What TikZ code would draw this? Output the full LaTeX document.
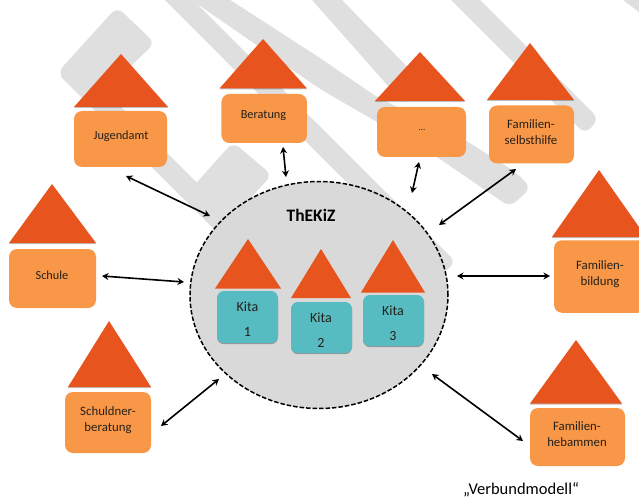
\documentclass[tikz,border=0pt]{standalone}
\usepackage{fontspec}
\setmainfont{Carlito}
\usetikzlibrary{arrows.meta,shadows,shapes.geometric}
\definecolor{stripe}{HTML}{DFDFDF}
\definecolor{ellfill}{HTML}{D9D9D9}
\definecolor{roof}{HTML}{E8541E}
\definecolor{wall}{HTML}{F99748}
\definecolor{kitac}{HTML}{56BCC2}
\definecolor{inkc}{HTML}{262019}
\tikzset{
  stripeshape/.style={fill=stripe,rounded corners=8pt},
  roofshape/.style={fill=roof,drop shadow={shadow xshift=0pt,shadow yshift=-1pt,fill=black,opacity=0.25}},
  kitaroof/.style={fill=roof},
  wallbox/.style={fill=wall,draw=none,rounded corners=8pt,inner sep=0pt},
  kitabox/.style={fill=kitac,draw=none,rounded corners=7pt,inner sep=0pt,
    drop shadow={shadow xshift=0pt,shadow yshift=-1.2pt,fill=black,opacity=0.3}},
  lab/.style={text=inkc,font=\fontsize{12.3}{12.3}\selectfont,align=center,inner sep=0pt},
  twolab/.style={text=inkc,font=\fontsize{12.8}{16.5}\selectfont,align=center,inner sep=0pt},
  kitalab/.style={text=inkc,font=\fontsize{14}{25}\selectfont,align=center,inner sep=0pt},
  link/.style={draw=black,line width=1.6pt,{Stealth[length=6.5pt,width=7pt]}-{Stealth[length=6.5pt,width=7pt]}},
}
\begin{document}
\begin{tikzpicture}[x=1pt,y=-1pt]
\useasboundingbox (0,0) rectangle (639,497);
\clip (0,0) rectangle (639,497);
% grey background strokes
\fill[stripeshape] (117,7) -- (155,43) -- (95,100) -- (57,73) -- cycle;
\fill[stripeshape] (85,71) -- (240,226) -- (225,240) -- (57,73) -- cycle;
\fill[stripeshape] (233,142) -- (272,175) -- (225,225) -- (190,190) -- cycle;
\fill[stripeshape] (180,-13) -- (456,262) -- (440,276) -- (150,-15) -- cycle;
\fill[stripeshape] (210,-13) -- (320,58) -- (377,97) -- (465,140) -- (517,173) -- (531,188) -- (510,207) -- (437,157) -- (377,122) -- (320,89) -- (180,-8) -- cycle;
\fill[stripeshape] (342,0) -- (425,85) -- (405,105) -- (312,0) -- (300,-15) -- (330,-15) -- cycle;
\fill[stripeshape] (465,-15) -- (599,119) -- (585,134) -- (436,-15) -- cycle;
\fill[stripe] (623,0) -- (639,12) -- (639,0) -- cycle;
% Jugendamt
\fill[roofshape] (121,54) -- (168,107) -- (74,107) -- cycle;
\node[wallbox,minimum width=93pt,minimum height=56pt] (jug) at (120.5,139) {};
\node[lab] (jugt) at (121,136) {Jugendamt};
% Beratung
\fill[roofshape] (263,39) -- (307,88.5) -- (219.5,88.5) -- cycle;
\node[wallbox,minimum width=85.5pt,minimum height=49pt] (ber) at (264.2,118.5) {};
\node[lab] (bert) at (263.5,116) {Beratung};
% dots
\fill[roofshape] (420,52) -- (465,101) -- (375,101) -- cycle;
\node[wallbox,minimum width=89pt,minimum height=50pt] (dots) at (421.5,132) {};
\node[lab,font=\fontsize{9}{9}\selectfont] (dotst) at (422,130.5) {...};
% Selbsthilfe
\fill[roofshape] (530,43) -- (574,100) -- (487,100) -- cycle;
\node[wallbox,minimum width=85pt,minimum height=58pt] (sel) at (531.5,134.5) {};
\node[twolab] (selt) at (531,132) {Familien-\\selbsthilfe};
% Bildung
\fill[roofshape] (599,170) -- (646,237) -- (552,237) -- cycle;
\node[wallbox,minimum width=92pt,minimum height=72.5pt] (bil) at (600,276.5) {};
\node[twolab] (bilt) at (600,274) {Familien-\\bildung};
% Schule
\fill[roofshape] (52,184) -- (96,243) -- (9,243) -- cycle;
\node[wallbox,minimum width=87pt,minimum height=59pt] (sch) at (52.5,278.5) {};
\node[lab] (scht) at (52,275) {Schule};
% Schuldnerberatung
\fill[roofshape] (109,321) -- (151,387) -- (68,387) -- cycle;
\node[wallbox,minimum width=86pt,minimum height=61pt] (shu) at (108,422.5) {};
\node[twolab] (shut) at (108,420) {Schuldner-\\beratung};
% Hebammen
\fill[roofshape] (576,340) -- (622,403.5) -- (530,403.5) -- cycle;
\node[wallbox,minimum width=95pt,minimum height=58pt] (heb) at (577.5,437) {};
\node[twolab] (hebt) at (577,434) {Familien-\\hebammen};
% Central ellipse
\node[fill=ellfill,draw=black,line width=1.5pt,dash pattern=on 4.5pt off 2pt,ellipse,minimum width=258pt,minimum height=227pt,inner sep=0pt] (thekiz) at (319,295) {};
\node[text=black,font=\fontsize{17.5}{17.5}\selectfont\bfseries,inner sep=0pt] (titel) at (311,215) {ThEKiZ};
% Kita 1
\fill[kitaroof] (248,239) -- (281,288.5) -- (215,288.5) -- cycle;
\node[kitabox,minimum width=61pt,minimum height=52pt] (k1) at (247.5,317) {};
\node[kitalab] (k1t) at (247.5,319.5) {Kita\\1};
% Kita 2
\fill[kitaroof] (321,249) -- (351,298) -- (291,298) -- cycle;
\node[kitabox,minimum width=61pt,minimum height=51pt] (k2) at (321.5,327.5) {};
\node[kitalab] (k2t) at (321,330) {Kita\\2};
% Kita 3
\fill[kitaroof] (393,240) -- (425,292.5) -- (361,292.5) -- cycle;
\node[kitabox,minimum width=61pt,minimum height=51pt] (k3) at (393.5,320.5) {};
\node[kitalab] (k3t) at (393,323) {Kita\\3};
% connector ends
\coordinate (a1) at (126,176); \coordinate (a2) at (210,216);
\coordinate (b1) at (283,147); \coordinate (b2) at (286,177);
\coordinate (c1) at (419,162); \coordinate (c2) at (412,193);
\coordinate (d1) at (516,169); \coordinate (d2) at (439,225);
\coordinate (e1) at (550,276); \coordinate (e2) at (457,276);
\coordinate (f1) at (523,441); \coordinate (f2) at (432,374);
\coordinate (g1) at (161,426); \coordinate (g2) at (219,379);
\coordinate (h1) at (102,276); \coordinate (h2) at (184,282);
\draw[link] (a1) -- (a2);
\draw[link] (b1) -- (b2);
\draw[link] (c1) -- (c2);
\draw[link] (d1) -- (d2);
\draw[link] (e1) -- (e2);
\draw[link] (f1) -- (f2);
\draw[link] (g1) -- (g2);
\draw[link] (h1) -- (h2);
% caption
\node[anchor=base west,text=black,font=\fontsize{16.5}{16.5}\selectfont,inner sep=0pt] (cap) at (463,494) {„Verbundmodell“};
\end{tikzpicture}
\end{document}
